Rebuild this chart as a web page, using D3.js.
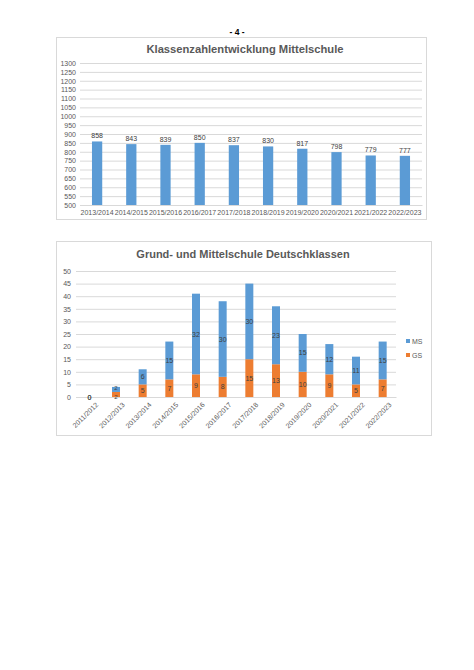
<!DOCTYPE html>
<html>
<head>
<meta charset="utf-8">
<script src="https://cdn.jsdelivr.net/npm/d3@7"></script>
<style>
  body { margin: 0; background: #fff; }
  text { font-family: "Liberation Sans", Arial, sans-serif; }
</style>
</head>
<body>
<svg id="page" width="474" height="670"></svg>
<script>
// chart 1: Klassenzahlentwicklung Mittelschule
const msYears = ['2013/2014', '2014/2015', '2015/2016', '2016/2017', '2017/2018',
    '2018/2019', '2019/2020', '2020/2021', '2021/2022', '2022/2023'];
const msValues = [858, 843, 839, 850, 837, 830, 817, 798, 779, 777];

// chart 2: Grund- und Mittelschule Deutschklassen
const dkYears = ['2011/2012', '2012/2013', '2013/2014', '2014/2015', '2015/2016', '2016/2017',
    '2017/2018', '2018/2019', '2019/2020', '2020/2021', '2021/2022', '2022/2023'];
const gsValues = [0, 2, 5, 7, 9, 8, 15, 13, 10, 9, 5, 7];
const msDkValues = [0, 2, 6, 15, 32, 30, 30, 23, 15, 12, 11, 15];
const seriesNames = ['GS', 'MS'];

const blue = '#5b9bd5', orange = '#ed7d31';
const grid = '#d9d9d9', axisText = '#595959';

const svg = d3.select('#page');

svg.append('text')
    .attr('x', 237).attr('y', 35)
    .attr('text-anchor', 'middle')
    .attr('font-size', 8.5).attr('font-weight', 'bold')
    .text('- 4 -');

buildMsChart(svg.append('g'));
buildDkChart(svg.append('g'));

function buildMsChart(g) {
    g.append('rect')
        .attr('x', 56.5).attr('y', 37.5).attr('width', 370).attr('height', 182)
        .attr('fill', '#fff').attr('stroke', grid);

    g.append('text')
        .attr('x', 245).attr('y', 53)
        .attr('text-anchor', 'middle')
        .attr('font-size', 11.2).attr('font-weight', 'bold').attr('fill', axisText)
        .text('Klassenzahlentwicklung Mittelschule');

    const x = d3.scaleBand().domain(msYears).range([80, 422]).paddingInner(0.7).paddingOuter(0.35);
    const y = d3.scaleLinear().domain([500, 1300]).range([205, 63]);

    const yAxis = g.append('g')
        .attr('transform', 'translate(80,0)')
        .call(d3.axisLeft(y).tickValues(d3.range(500, 1301, 50)).tickFormat(d3.format('d'))
            .tickSize(-342).tickPadding(4));
    yAxis.select('.domain').remove();
    yAxis.selectAll('line').attr('stroke', grid);
    yAxis.selectAll('text').attr('fill', axisText).attr('font-size', 7)
        .attr('font-family', 'Liberation Sans, Arial, sans-serif');

    const xAxis = g.append('g')
        .attr('transform', 'translate(0,205)')
        .call(d3.axisBottom(x).tickSize(0).tickPadding(5));
    xAxis.select('.domain').attr('stroke', grid);
    xAxis.selectAll('text').attr('fill', axisText).attr('font-size', 7)
        .attr('font-family', 'Liberation Sans, Arial, sans-serif');

    g.selectAll('rect.bar')
        .data(msValues)
        .enter()
        .append('rect')
        .attr('class', 'bar')
        .attr('x', (d, i) => x(msYears[i]))
        .attr('width', x.bandwidth())
        .attr('y', d => y(d))
        .attr('height', d => y(500) - y(d))
        .attr('fill', blue);

    g.selectAll('text.val')
        .data(msValues)
        .enter()
        .append('text')
        .attr('class', 'val')
        .attr('x', (d, i) => x(msYears[i]) + x.bandwidth() / 2)
        .attr('y', d => y(d) - 3)
        .attr('text-anchor', 'middle')
        .attr('font-size', 7).attr('fill', '#404040')
        .text(d => d);
}

function buildDkChart(g) {
    g.append('rect')
        .attr('x', 56.5).attr('y', 241.5).attr('width', 375).attr('height', 194)
        .attr('fill', '#fff').attr('stroke', grid);

    g.append('text')
        .attr('x', 243).attr('y', 258)
        .attr('text-anchor', 'middle')
        .attr('font-size', 11).attr('font-weight', 'bold').attr('fill', axisText)
        .text('Grund- und Mittelschule Deutschklassen');

    const x = d3.scaleBand().domain(dkYears).range([76, 396]).paddingInner(0.7).paddingOuter(0.35);
    const y = d3.scaleLinear().domain([0, 50]).range([397, 271]);

    const yAxis = g.append('g')
        .attr('transform', 'translate(76,0)')
        .call(d3.axisLeft(y).tickValues(d3.range(0, 51, 5)).tickSize(-320).tickPadding(5));
    yAxis.select('.domain').remove();
    yAxis.selectAll('line').attr('stroke', grid);
    yAxis.selectAll('text').attr('fill', axisText).attr('font-size', 7)
        .attr('font-family', 'Liberation Sans, Arial, sans-serif');

    const xAxis = g.append('g')
        .attr('transform', 'translate(0,397)')
        .call(d3.axisBottom(x).tickSize(0).tickPadding(4));
    xAxis.select('.domain').attr('stroke', grid);
    xAxis.selectAll('text')
        .attr('fill', axisText).attr('font-size', 7)
        .attr('font-family', 'Liberation Sans, Arial, sans-serif')
        .attr('text-anchor', 'end')
        .attr('dy', '0.5em')
        .attr('transform', 'translate(4,3) rotate(-45)');

    const rows = dkYears.map((year, i) => ({ year, GS: gsValues[i], MS: msDkValues[i] }));
    const stacked = d3.stack().keys(seriesNames)(rows);
    const color = d3.scaleOrdinal().domain(seriesNames).range([orange, blue]);

    const layers = g.selectAll('g.layer')
        .data(stacked)
        .enter()
        .append('g')
        .attr('class', 'layer')
        .attr('fill', d => color(d.key));

    layers.selectAll('rect')
        .data(d => d)
        .enter()
        .append('rect')
        .attr('x', d => x(d.data.year))
        .attr('width', x.bandwidth())
        .attr('y', d => y(d[1]))
        .attr('height', d => y(d[0]) - y(d[1]));

    // small segments: labels in the reference sit close together, keep them just apart
    layers.selectAll('text')
        .data(d => d)
        .enter()
        .append('text')
        .attr('x', d => x(d.data.year) + x.bandwidth() / 2)
        .attr('y', d => {
            let cy = (y(d[0]) + y(d[1])) / 2 + 2.5;
            if (d[1] - d[0] === 2) cy += d[0] === 0 ? 2 : -2;
            return cy;
        })
        .attr('text-anchor', 'middle')
        .attr('font-size', d => d[1] - d[0] === 2 ? 6 : 7).attr('fill', '#404040')
        .text(d => d[1] - d[0]);

    const legend = g.selectAll('g.legend')
        .data(['MS', 'GS'])
        .enter()
        .append('g')
        .attr('class', 'legend')
        .attr('transform', (d, i) => `translate(406,${342 + i * 14})`);
    legend.append('rect')
        .attr('x', 0).attr('y', -3).attr('width', 4).attr('height', 4)
        .attr('fill', d => color(d));
    legend.append('text')
        .attr('x', 6).attr('y', 2)
        .attr('font-size', 7).attr('fill', axisText)
        .text(d => d);
}
</script>
</body>
</html>
